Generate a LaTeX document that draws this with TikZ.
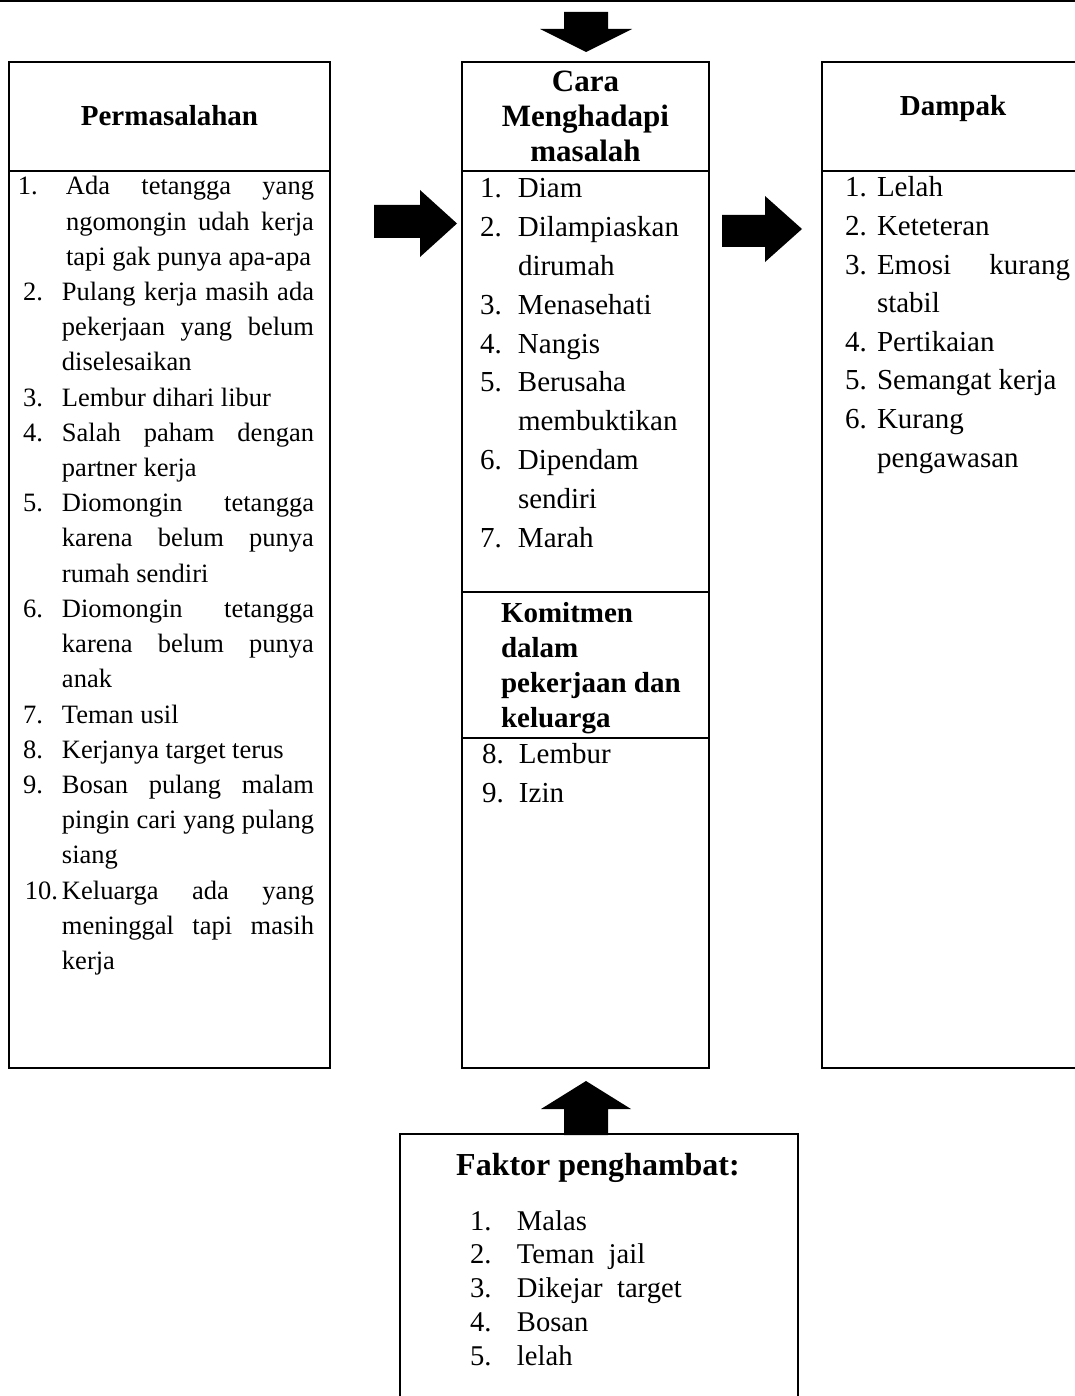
\documentclass[tikz,border=0pt]{standalone}
\usepackage{fontspec}
\setmainfont{Liberation Serif}
\usepackage{array}
\newcommand{\js}[1]{\makebox[\linewidth][s]{#1}}
\tikzset{
  boxline/.style={line width=1pt},
  lst/.style={anchor=base west, inner sep=0pt, outer sep=0pt},
  hdr/.style={anchor=base, inner sep=0pt, font=\bfseries\fontsize{14.5}{17.5}\selectfont},
  blockarrow/.style={fill=black}
}
\begin{document}
\begin{tikzpicture}[x=0.5pt,y=-0.5pt]
\useasboundingbox (0,0) rectangle (1075,1396);
\clip (0,0) rectangle (1075,1396);
% top rule
\draw[line width=1pt] (0,1) -- (1075,1);
% boxes
\draw[boxline] (9,62) rectangle (330,1068);
\draw[boxline] (9,171) -- (330,171);
\draw[boxline] (462,62) rectangle (709,1068);
\draw[boxline] (462,171) -- (709,171);
\draw[boxline] (462,592) -- (709,592);
\draw[boxline] (462,738) -- (709,738);
\draw[boxline] (822,62) rectangle (1090,1068);
\draw[boxline] (822,171) -- (1090,171);
\draw[boxline] (400,1134) rectangle (798,1420);
% block arrows
\fill[blockarrow] (564,12) -- (608,12) -- (608,29) -- (632,29) -- (586,52) -- (540,29) -- (564,29) -- cycle;
\fill[blockarrow] (374,205) -- (420,205) -- (420,190) -- (457,223.5) -- (420,257) -- (420,238) -- (374,238) -- cycle;
\fill[blockarrow] (722,215) -- (765,215) -- (765,196) -- (802,229) -- (765,262) -- (765,247) -- (722,247) -- cycle;
\fill[blockarrow] (564,1135) -- (564,1109) -- (541,1109) -- (586,1081) -- (631,1109) -- (608,1109) -- (608,1135) -- cycle;
% headers
\node[hdr] (hperm) at (169.5,126) {Permasalahan};
\node[hdr] (hdamp) at (953,116) {Dampak};
\node[anchor=base, inner sep=0pt, font=\bfseries\fontsize{15.5}{17.5}\selectfont] (hcara) at (585.5,92)
  {\begin{tabular}[t]{@{}c@{}}Cara\\Menghadapi\\masalah\end{tabular}};
\node[lst, font=\bfseries\fontsize{14.5}{17.5}\selectfont] (hkom) at (501,622)
  {\begin{tabular}[t]{@{}l@{}}Komitmen\\dalam\\pekerjaan dan\\keluarga\end{tabular}};
\node[anchor=base, inner sep=0pt, font=\bfseries\fontsize{16}{19}\selectfont] (hfak) at (598,1175) {Faktor penghambat:};
% left list
\node[lst, font=\fontsize{13.25}{17.6}\selectfont] (lperm) at (23,195)
  {\begin{tabular}[t]{@{}p{19.5pt}@{}p{126pt}@{}}
  \hspace*{-2.5pt}1. & \hspace*{2pt}\makebox[124pt][s]{Ada tetangga yang}\\
   & \hspace*{2pt}\makebox[124pt][s]{ngomongin udah kerja}\\
   & \hspace*{2pt}tapi gak punya apa-apa\\
  2. & \js{Pulang kerja masih ada}\\
   & \js{pekerjaan yang belum}\\
   & diselesaikan\\
  3. & Lembur dihari libur\\
  4. & \js{Salah paham dengan}\\
   & partner kerja\\
  5. & \js{Diomongin tetangga}\\
   & \js{karena belum punya}\\
   & rumah sendiri\\
  6. & \js{Diomongin tetangga}\\
   & \js{karena belum punya}\\
   & anak\\
  7. & Teman usil\\
  8. & Kerjanya target terus\\
  9. & \js{Bosan pulang malam}\\
   & \js{pingin cari yang pulang}\\
   & siang\\
  \hspace*{1pt}10. & \js{Keluarga ada yang}\\
   & \js{meninggal tapi masih}\\
   & kerja
  \end{tabular}};
% middle list
\node[lst, font=\fontsize{14.5}{19.4}\selectfont] (lcara) at (480,198)
  {\begin{tabular}[t]{@{}p{19pt}@{}l@{}}
  1. & Diam\\
  2. & Dilampiaskan\\
   & dirumah\\
  3. & Menasehati\\
  4. & Nangis\\
  5. & Berusaha\\
   & membuktikan\\
  6. & Dipendam\\
   & sendiri\\
  7. & Marah
  \end{tabular}};
\node[lst, font=\fontsize{14.5}{19.5}\selectfont] (lkom) at (482,763)
  {\begin{tabular}[t]{@{}p{18.5pt}@{}l@{}}
  8. & Lembur\\
  9. & Izin
  \end{tabular}};
% right list
\node[lst, font=\fontsize{14.5}{19.3}\selectfont] (ldamp) at (845,197)
  {\begin{tabular}[t]{@{}p{16pt}@{}p{96.5pt}@{}}
  1. & Lelah\\
  2. & Keteteran\\
  3. & \js{Emosi kurang}\\
   & stabil\\
  4. & Pertikaian\\
  5. & Semangat kerja\\
  6. & Kurang\\
   & pengawasan
  \end{tabular}};
% bottom list
\node[lst, font=\fontsize{14.3}{16.9}\selectfont] (lfak) at (470,1230)
  {\begin{tabular}[t]{@{}p{23.5pt}@{}l@{}}
  1. & Malas\\
  2. & Teman\ \ jail\\
  3. & Dikejar\ \ target\\
  4. & Bosan\\
  5. & lelah
  \end{tabular}};
\end{tikzpicture}
\end{document}
